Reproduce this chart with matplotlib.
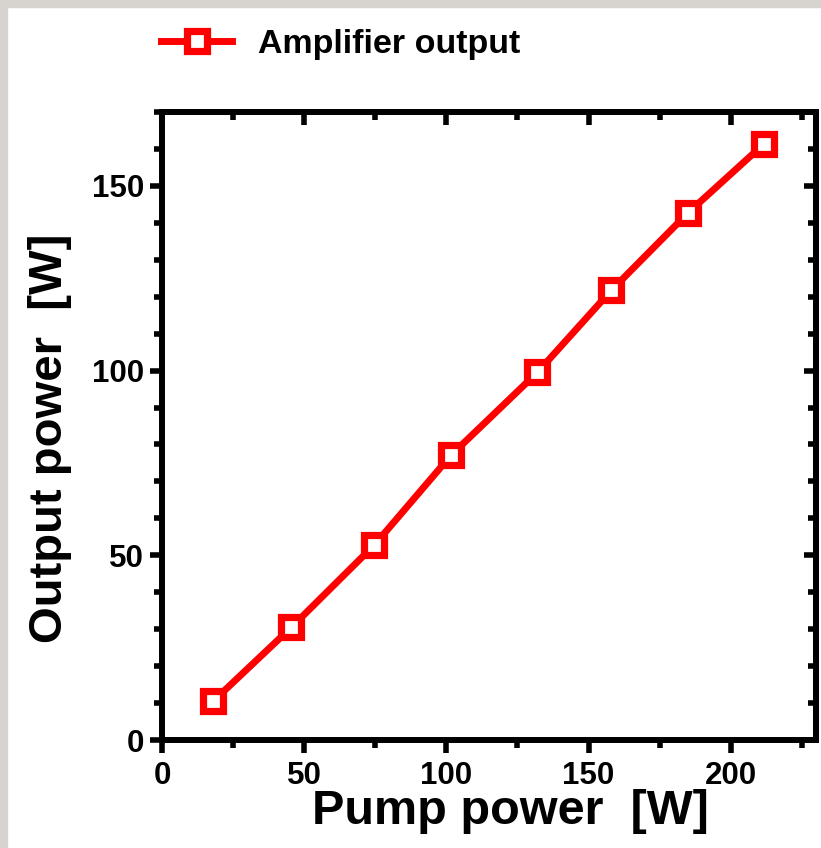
import matplotlib
matplotlib.use('Agg')
import matplotlib.pyplot as plt
from matplotlib.patches import Rectangle
from matplotlib.ticker import MultipleLocator

pump = [18, 45.5, 74.7, 101.8, 132, 158, 185, 211.6]
output = [10.5, 30.5, 52.8, 77.2, 99.5, 121.7, 142.7, 161.3]

x_ticks = [0, 50, 100, 150, 200]
y_ticks = [0, 50, 100, 150]

plt.rcParams['font.family'] = ['Liberation Sans', 'DejaVu Sans']
plt.rcParams['font.weight'] = 'bold'

W, H = 821, 848
fig = plt.figure(figsize=(W / 100, H / 100), dpi=100)
fig.patch.set_facecolor('white')

# grey frame on the top and left edge
border = '#d7d3cf'
fig.patches.append(Rectangle((0, 1 - 7 / H), 1, 7 / H, transform=fig.transFigure,
                             color=border, zorder=0))
fig.patches.append(Rectangle((0, 0), 7 / W, 1, transform=fig.transFigure,
                             color=border, zorder=0))

ax = fig.add_axes([162 / W, 1 - 740 / H, (816 - 162) / W, (740 - 112) / H])

ax.plot(pump, output, color='#ff0000', linewidth=5, marker='s', markersize=14,
        markerfacecolor='white', markeredgecolor='#ff0000', markeredgewidth=5.2,
        label='Amplifier output', solid_joinstyle='round')

ax.set_xlim(0, 230)
ax.set_ylim(0, 170)
ax.set_xticks(x_ticks)
ax.set_yticks(y_ticks)
ax.xaxis.set_minor_locator(MultipleLocator(25))
ax.yaxis.set_minor_locator(MultipleLocator(10))

for s in ax.spines.values():
    s.set_linewidth(4.3)

ax.tick_params(which='major', direction='out', length=9, width=4, labelsize=22.5)
ax.tick_params(axis='x', which='major', pad=6)
ax.tick_params(axis='y', which='major', pad=4)
ax.tick_params(which='minor', direction='out', length=5.5, width=4)

# top and right ticks point inward
top = ax.secondary_xaxis('top')
top.set_xticks(x_ticks)
top.xaxis.set_minor_locator(MultipleLocator(25))
top.tick_params(which='major', direction='in', length=9, width=4, labeltop=False)
top.tick_params(which='minor', direction='in', length=5.5, width=4)
top.spines['top'].set_linewidth(4.3)

right = ax.secondary_yaxis('right')
right.set_yticks(y_ticks)
right.yaxis.set_minor_locator(MultipleLocator(10))
right.tick_params(which='major', direction='in', length=9, width=4, labelright=False)
right.tick_params(which='minor', direction='in', length=5.5, width=4)
right.spines['right'].set_linewidth(4.3)

for lab in ax.get_xticklabels() + ax.get_yticklabels():
    lab.set_fontweight('bold')

ax.set_xlabel('Pump power  [W]', fontsize=35, fontweight='bold', va='center')
ax.xaxis.set_label_coords((510 - 162) / 654, -(812 - 740) / 628)
ax.set_ylabel('Output power  [W]', fontsize=34, fontweight='bold', va='center')
ax.yaxis.set_label_coords((50 - 162) / 654, (740 - 438) / 628)

leg = ax.legend(loc='center left', bbox_to_anchor=(161 / W, 1 - 44 / H),
                bbox_transform=fig.transFigure, frameon=False, fontsize=24.5,
                handlelength=2.1, handletextpad=0.75, borderpad=0, borderaxespad=0)
for t in leg.get_texts():
    t.set_fontweight('bold')

fig.savefig('out.png', dpi=100)
